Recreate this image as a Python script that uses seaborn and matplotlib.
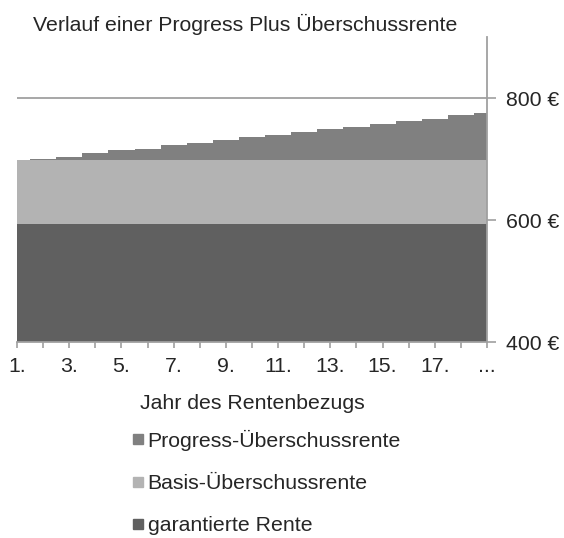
import matplotlib
matplotlib.use("Agg")
import matplotlib.pyplot as plt
from matplotlib.lines import Line2D
import seaborn as sns
import pandas as pd
import numpy as np

# ---- data ----
categories = [f"{i}." for i in range(1, 19)] + ["..."]
garantiert = [593] * 19
basis = [105] * 19
progress = [0, 2, 6, 12, 16, 19, 25, 29, 33, 38, 42, 46, 51, 55, 59, 64, 68, 74, 78]
y_ticks = [400, 600, 800]
y_ticklabels = ["400 €", "600 €", "800 €"]
series_names = ["Progress-Überschussrente", "Basis-Überschussrente", "garantierte Rente"]
title = "Verlauf einer Progress Plus Überschussrente"
xlabel = "Jahr des Rentenbezugs"

c_prog = "#808080"
c_basis = "#b3b3b3"
c_gar = "#606060"
c_axis = "#a0a0a0"
c_text = "#262626"

sns.set_theme(style="white")
plt.rcParams["font.family"] = ["Liberation Sans", "DejaVu Sans"]
FS = 15.3

df = pd.DataFrame({
    "Jahr": categories,
    "garantiert": garantiert,
    "mid": np.array(garantiert) + np.array(basis),
    "total": np.array(garantiert) + np.array(basis) + np.array(progress),
})

fig = plt.figure(figsize=(5.64, 5.38), dpi=100)
ax = fig.add_axes([17 / 564, 1 - 342 / 538, 470 / 564, 305 / 538])

for col, c in [("total", c_prog), ("mid", c_basis), ("garantiert", c_gar)]:
    sns.barplot(data=df, x="Jahr", y=col, order=categories, color=c, width=1.0,
                saturation=1, linewidth=0, ax=ax)
for p in ax.patches:
    p.set_antialiased(False)

ax.set_xlim(0, len(categories) - 1)
ax.set_ylim(400, 900)
ax.axhline(800, color=c_axis, lw=1.3, zorder=5)

for s in ["left", "top"]:
    ax.spines[s].set_visible(False)
for s in ["right", "bottom"]:
    ax.spines[s].set_color(c_axis)
    ax.spines[s].set_linewidth(1.3)
    ax.spines[s].set_zorder(6)

ax.yaxis.tick_right()
ax.set_yticks(y_ticks)
ax.set_yticklabels(y_ticklabels)
ax.tick_params(axis="y", direction="out", length=6.5, width=1.2, color=c_axis,
               pad=7, labelsize=FS, labelcolor=c_text, right=True, left=False)

ax.set_xticks(range(len(categories)))
ax.set_xticklabels([c if i % 2 == 0 else "" for i, c in enumerate(categories)])
ax.tick_params(axis="x", direction="out", length=4.5, width=1.2, color=c_axis,
               pad=6.5, labelsize=FS, labelcolor=c_text, bottom=True)

ax.set_xlabel(xlabel, fontsize=FS, color=c_text, labelpad=13)
ax.set_ylabel("")

fig.text(33 / 564, 1 - 24 / 538, title, fontsize=FS, color=c_text, ha="left", va="center")

handles = [Line2D([0], [0], marker="s", linestyle="none", markersize=7.5,
                  markerfacecolor=c, markeredgecolor=c)
           for c in [c_prog, c_basis, c_gar]]
leg = fig.legend(handles, series_names, loc="upper left",
                 bbox_to_anchor=(121 / 564, 1 - 419 / 538), frameon=False,
                 fontsize=FS, labelcolor=c_text, handlelength=0.6,
                 handletextpad=0.15, labelspacing=1.1, borderpad=0)

fig.savefig("out.png", dpi=100)
